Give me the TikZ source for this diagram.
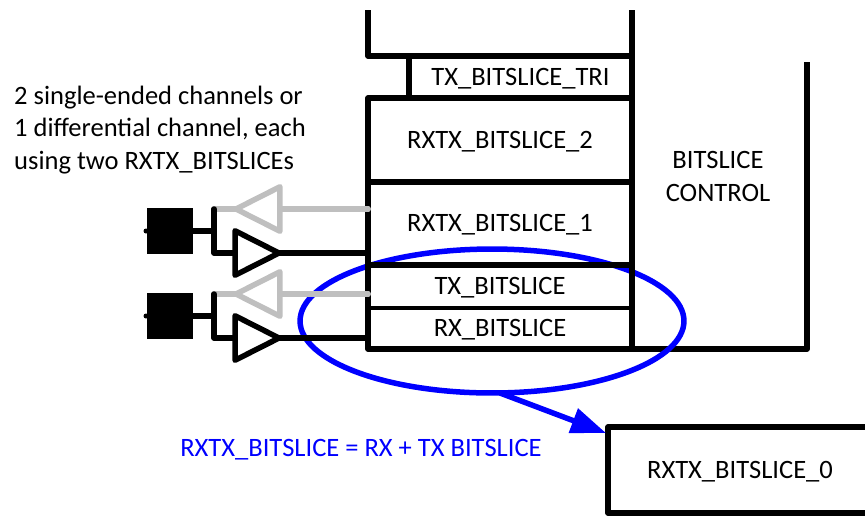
\documentclass[tikz,border=0pt]{standalone}
\usepackage{fontspec}
\setmainfont{Carlito}
\usetikzlibrary{shapes.geometric,arrows.meta}
\definecolor{offgray}{HTML}{BFBFBF}
\definecolor{noteblue}{HTML}{0000FF}
\tikzset{
    wire/.style={line width=1.1mm,line cap=round,line join=round},
    slicebox/.style={draw,line width=1.1mm,line join=round,minimum width=5.28cm,inner sep=0pt,outer sep=0pt,text height=9.6pt,text depth=0.4pt,font=\fontsize{15.1}{18.7}\selectfont},
    padbox/.style={draw,fill=black,minimum size=0.9cm,inner sep=0pt},
    buf/.style={isosceles triangle,isosceles triangle apex angle=54,isosceles triangle stretches,draw,line width=1.1mm,line join=round,minimum width=0.89cm,minimum height=0.88cm,inner sep=0pt,outer sep=0pt,fill=white},
    label/.style={font=\fontsize{15.1}{18.7}\selectfont}
}
\begin{document}
\begin{tikzpicture}[x=0.02cm,y=-0.02cm]
\useasboundingbox (0,0) rectangle (865,515);

%---------------- Control side ----------------
\coordinate (botm) at (632,349);
\coordinate (ctrltop) at (807,62);
\draw[line width=1.1mm,line join=round] (botm) -- (807,349) -- (ctrltop);

%---------------- Grouping ----------------
\node[draw=noteblue,line width=1.1mm,ellipse,minimum width=7.68cm,minimum height=2.88cm,inner sep=0pt,outer sep=0pt] (group) at (492,321) {};

%---------------- Slices ----------------
\node[slicebox,draw=none,minimum height=0.84cm] (txs) at (500,286.5) {TX\_BITSLICE};
\node[slicebox,draw=none,minimum height=0.82cm] (rxs) at (500,328.5) {RX\_BITSLICE};
\draw[line width=0.75mm] (rxs.north west) -- (rxs.north east);
\node[slicebox,minimum width=4.46cm,minimum height=0.84cm] (tri) at (520.5,77) {TX\_BITSLICE\_TRI};
\node[slicebox,minimum height=1.68cm] (rxtx2) at (500,140) {RXTX\_BITSLICE\_2};
\node[slicebox,minimum height=1.66cm] (rxtx1) at (500,223.5) {RXTX\_BITSLICE\_1};
\draw[wire] (rxtx1.south west) -- (rxs.south west) -- (rxs.south east) -- (rxtx1.south east);

%---------------- Open top ----------------
\coordinate (topl) at (368,10);
\coordinate (topr) at (632,10);
\draw[line width=1.1mm,line join=round] (topl) -- (368,56) -- (632,56);
\draw[line width=1.1mm] (topr) -- (botm);
\node[label,align=center] (ctrl) at (718,176.5) {BITSLICE\\CONTROL};

%---------------- Pads and buffers ----------------
\foreach \name/\dy in {a/0,b/85}{
    \begin{scope}[yshift=-\dy*0.02cm]
    \node[padbox] (pad\name) at (169.5,231) {};
    \coordinate (join\name) at (214,231);
    \coordinate (top\name) at (214,209);
    \coordinate (low\name) at (214,253);
    \coordinate (pin\name) at (368,209);
    \coordinate (pout\name) at (368,253);
    \draw[wire] (pad\name) -- (join\name);
    \draw[wire,offgray] (pin\name) -- (top\name);
    \node[buf,draw=offgray,rotate=180,anchor=apex] (tx\name) at (236,209) {};
    \draw[wire,offgray] (pin\name) -- (tx\name.lower side);
    \draw[wire] (top\name) -- (low\name) -- (235,253);
    \node[buf,anchor=apex] (rx\name) at (279,253) {};
    \draw[wire] (rx\name.apex) -- (pout\name);
    \fill (146,231) circle (2.5);
    \end{scope}
}

%---------------- Note ----------------
\node[label,align=left,anchor=west] (note) at (8,130) {2 single-ended channels or\\1 differential channel, each\\using two RXTX\_BITSLICEs};

%---------------- Output slice ----------------
\node[slicebox,minimum height=1.72cm] (rxtx0) at (740,470) {RXTX\_BITSLICE\_0};
\draw[-{Triangle[length=7mm,width=5mm]},line width=1.1mm,noteblue] ([xshift=8*0.02cm]group.south) -- ([shift={(-2,6)}]rxtx0.north west);
\node[label,text=noteblue] (eq) at (361,450) {RXTX\_BITSLICE = RX + TX BITSLICE};

\end{tikzpicture}
\end{document}
